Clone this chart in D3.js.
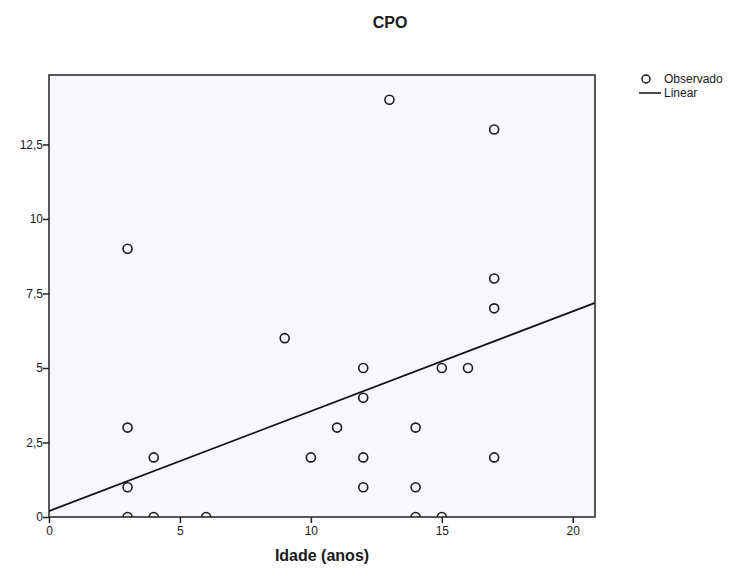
<!DOCTYPE html>
<html>
<head>
<meta charset="utf-8">
<script src="https://cdn.jsdelivr.net/npm/d3@7"></script>
<style>
  body { margin: 0; background: #fff; }
  text { font-family: Arial, "Liberation Sans", sans-serif; fill: #1a1a1a; }
</style>
</head>
<body>
<div class="chart"></div>
<script>
// data
var idade = [3, 3, 3, 3, 4, 4, 6, 9, 10, 11, 12, 12, 12, 12, 13, 14, 14, 14, 15, 15, 16, 17, 17, 17, 17];
var cpo   = [9, 3, 1, 0, 2, 0, 0, 6, 2, 3, 5, 4, 2, 1, 14, 3, 1, 0, 5, 0, 5, 13, 8, 7, 2];
var xTicks = [0, 5, 10, 15, 20];
var yTicks = [0, 2.5, 5, 7.5, 10, 12.5];
var linearFit = [0.2, 0.335]; // intercept, slope
var legendLabels = ["Observado", "Linear"];

var svgWidth = 738;
var svgHeight = 572;
var margin = { top: 75, right: 143, bottom: 55, left: 49 };
var width = svgWidth - margin.left - margin.right;
var height = svgHeight - margin.top - margin.bottom;

var svg = d3.select(".chart")
  .append("svg")
  .attr("width", svgWidth)
  .attr("height", svgHeight);

var chartGroup = svg.append("g")
  .attr("transform", `translate(${margin.left}, ${margin.top})`);

var xScale = d3.scaleLinear().domain([0, 20.85]).range([0, width]);
var yScale = d3.scaleLinear().domain([0, 14.83]).range([height, 0]);

var fmt = d => String(d).replace(".", ",");

// plot background
chartGroup.append("rect")
  .attr("width", width)
  .attr("height", height)
  .attr("fill", "#f8f8fc");

chartGroup.append("clipPath")
  .attr("id", "plotClip")
  .append("rect")
  .attr("width", width)
  .attr("height", height);

// axes
var bottomAxis = d3.axisBottom(xScale).tickValues(xTicks).tickSize(6).tickSizeOuter(0).tickFormat(fmt);
var leftAxis = d3.axisLeft(yScale).tickValues(yTicks).tickSize(6).tickSizeOuter(0).tickFormat(fmt);

var gx = chartGroup.append("g")
  .attr("transform", `translate(0, ${height})`)
  .call(bottomAxis);
var gy = chartGroup.append("g").call(leftAxis);

[gx, gy].forEach(function(g) {
  g.select(".domain").remove();
  g.selectAll("line").attr("stroke", "#222").attr("stroke-width", 1.5);
  g.selectAll("text").attr("font-size", 12).attr("fill", "#222");
});
gy.selectAll("text").attr("x", -6);
gx.selectAll("text").attr("y", 9);

// points
var points = idade.map((x, i) => ({ x: x, y: cpo[i] }));
chartGroup.append("g")
  .attr("clip-path", "url(#plotClip)")
  .selectAll("circle")
  .data(points)
  .enter()
  .append("circle")
  .attr("cx", d => xScale(d.x))
  .attr("cy", d => yScale(d.y))
  .attr("r", 4.5)
  .attr("fill", "none")
  .attr("stroke", "#1a1a1a")
  .attr("stroke-width", 1.6);

// fit line
var xDom = xScale.domain();
chartGroup.append("line")
  .attr("x1", xScale(xDom[0]))
  .attr("y1", yScale(linearFit[0] + linearFit[1] * xDom[0]))
  .attr("x2", xScale(xDom[1]))
  .attr("y2", yScale(linearFit[0] + linearFit[1] * xDom[1]))
  .attr("stroke", "#111")
  .attr("stroke-width", 1.8);

// frame
chartGroup.append("rect")
  .attr("width", width)
  .attr("height", height)
  .attr("fill", "none")
  .attr("stroke", "#222")
  .attr("stroke-width", 1.5);

// title and axis label
svg.append("text")
  .attr("x", 390)
  .attr("y", 28)
  .attr("text-anchor", "middle")
  .attr("font-size", 16)
  .attr("font-weight", "bold")
  .text("CPO");

svg.append("text")
  .attr("x", margin.left + width / 2)
  .attr("y", 561)
  .attr("text-anchor", "middle")
  .attr("font-size", 16)
  .attr("font-weight", "bold")
  .text("Idade (anos)");

// legend
var legend = svg.append("g").attr("transform", "translate(646, 79)");
legend.append("circle")
  .attr("cx", 0).attr("cy", 0).attr("r", 4)
  .attr("fill", "none").attr("stroke", "#1a1a1a").attr("stroke-width", 1.5);
legend.append("line")
  .attr("x1", -7).attr("x2", 15).attr("y1", 14).attr("y2", 14)
  .attr("stroke", "#111").attr("stroke-width", 1.5);
legend.selectAll("text.lg")
  .data(legendLabels)
  .enter()
  .append("text")
  .attr("class", "lg")
  .attr("x", 18)
  .attr("y", (d, i) => i * 14 + 4)
  .attr("font-size", 12)
  .text(d => d);
</script>
</body>
</html>
